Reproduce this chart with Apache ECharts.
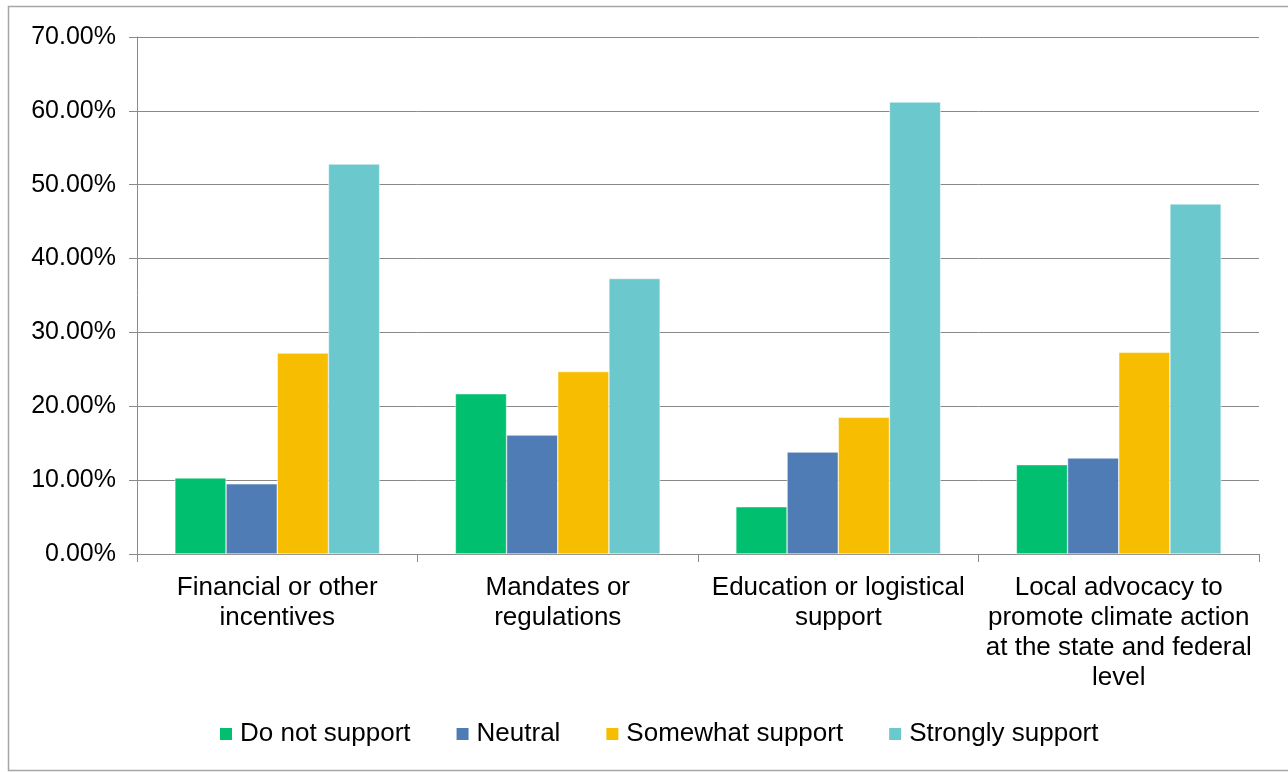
<!DOCTYPE html>
<html>
<head>
<meta charset="utf-8">
<script src="https://cdn.jsdelivr.net/npm/echarts@6/dist/echarts.min.js"></script>
<style>
  html, body { margin: 0; padding: 0; background: #ffffff; }
  #chart { width: 1288px; height: 772px; }
</style>
</head>
<body>
<div id="chart"></div>
<script>
// Support levels for each climate policy approach (shares of respondents, %)
const categories = [
  'Financial or other\nincentives',
  'Mandates or\nregulations',
  'Education or logistical\nsupport',
  'Local advocacy to\npromote climate action\nat the state and federal\nlevel'
];
const seriesNames = ['Do not support', 'Neutral', 'Somewhat support', 'Strongly support'];
const doNotSupport = [10.3, 21.7, 6.4, 12.1];
const neutral = [9.5, 16.1, 13.8, 13.0];
const somewhatSupport = [27.2, 24.7, 18.5, 27.3];
const stronglySupport = [52.8, 37.3, 61.2, 47.4];
const colors = ['#00BF6F', '#507CB6', '#F7BD00', '#6BC8CD'];

const values = [doNotSupport, neutral, somewhatSupport, stronglySupport];
const font = 'Liberation Sans, Arial, sans-serif';

const chart = echarts.init(document.getElementById('chart'), null, { renderer: 'canvas' });
chart.setOption({
  backgroundColor: '#ffffff',
  animation: false,
  color: colors,
  graphic: [{
    type: 'rect',
    shape: { x: 8.5, y: 6.5, width: 1290, height: 764 },
    style: { fill: 'none', stroke: '#A6A6A6', lineWidth: 1.5 },
    silent: true
  }],
  grid: { left: 137, right: 29, top: 37, bottom: 218 },
  legend: {
    data: seriesNames,
    bottom: 20,
    left: 213,
    itemWidth: 14,
    itemHeight: 14,
    itemGap: 44,
    icon: 'rect',
    textStyle: { fontFamily: font, fontSize: 26, color: '#000000', padding: [0, 0, 0, 2] }
  },
  xAxis: {
    type: 'category',
    data: categories,
    axisLine: { lineStyle: { color: '#898989', width: 1 } },
    axisTick: { show: true, length: 8, lineStyle: { color: '#898989' } },
    axisLabel: {
      interval: 0,
      margin: 19,
      fontFamily: font,
      fontSize: 26,
      lineHeight: 30,
      color: '#000000',
      align: 'center'
    }
  },
  yAxis: {
    type: 'value',
    min: 0,
    max: 70,
    interval: 10,
    axisLine: { show: true, lineStyle: { color: '#898989', width: 1 } },
    axisTick: { show: true, length: 8, lineStyle: { color: '#898989' } },
    splitLine: { lineStyle: { color: '#898989', width: 1 } },
    axisLabel: {
      margin: 21,
      fontFamily: font,
      fontSize: 25,
      color: '#000000',
      formatter: v => v.toFixed(2) + '%'
    }
  },
  series: seriesNames.map((name, i) => ({
    name: name,
    type: 'bar',
    data: values[i],
    barGap: '0%',
    barCategoryGap: '27%',
    itemStyle: { color: colors[i], borderColor: '#ffffff', borderWidth: 0.5 }
  }))
});
</script>
</body>
</html>
